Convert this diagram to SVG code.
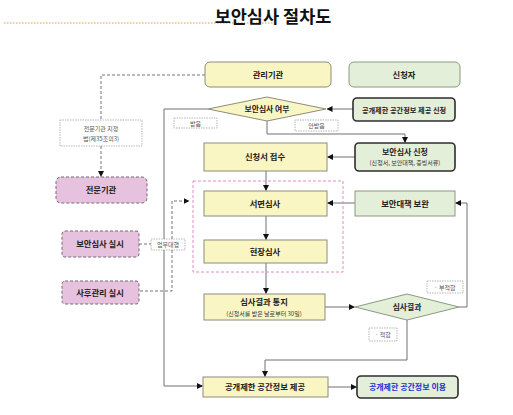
<svg xmlns="http://www.w3.org/2000/svg" width="513" height="415" viewBox="0 0 513 415">
<defs>
<marker id="ah" markerWidth="6" markerHeight="6" refX="5.5" refY="3" orient="auto" markerUnits="userSpaceOnUse">
<path d="M0,0 L6,3 L0,6 z" fill="#111"/>
</marker>
<style>
text{font-family:"Noto Sans CJK KR","Noto Sans",sans-serif;font-weight:bold;text-anchor:middle;fill:#222;}
.y{fill:#FAF6C4;stroke:#8c8c7c;stroke-width:1;}
.g{fill:#E4EFD9;stroke:#8a9a80;stroke-width:1;}
.gd{fill:#E4EFD9;stroke:#2e2e2e;stroke-width:1.6;}
.p{fill:#E6C2DE;stroke:#7a6676;stroke-width:1;stroke-dasharray:3 2;}
.lbl{fill:#fff;stroke:#999;stroke-width:0.7;stroke-dasharray:1.5 1;}
.lt{font-size:6px;font-weight:normal;fill:#555;}
.m{font-size:8.3px;}
.s{font-size:6px;font-weight:normal;fill:#333;}
.c{fill:none;stroke:#707070;stroke-width:1;}
.cd{fill:none;stroke:#777;stroke-width:1;stroke-dasharray:3 2;}
</style>
</defs>
<rect width="513" height="415" fill="#fff"/>
<line x1="4" y1="23" x2="277" y2="23" stroke="#E0A040" stroke-width="1.2" stroke-dasharray="1.5 1.5"/>
<text x="273" y="23" style="font-size:17.5px;font-weight:bold;fill:#111">보안심사 절차도</text>

<g id="connectors">
<path class="c" d="M353,109 L327,109" marker-end="url(#ah)"/>
<path class="c" d="M267,121 L267,134 L405,134 L405,142.5" marker-end="url(#ah)"/>
<path class="c" d="M208,109 L164,109 L164,386 L202.5,386" marker-end="url(#ah)"/>
<path class="c" d="M355,157 L327.5,157" marker-end="url(#ah)"/>
<path class="c" d="M266,171 L266,190.5" marker-end="url(#ah)"/>
<path class="c" d="M355,203 L327.5,203" marker-end="url(#ah)"/>
<path class="c" d="M266,216 L266,239.5" marker-end="url(#ah)"/>
<path class="c" d="M266,263 L266,293.5" marker-end="url(#ah)"/>
<path class="c" d="M325,307 L354.5,307" marker-end="url(#ah)"/>
<path class="c" d="M459,307 L467,307 L467,203 L455.5,203" marker-end="url(#ah)"/>
<path class="c" d="M407,320 L407,360 L265,360 L265,376.5" marker-end="url(#ah)"/>
<path class="c" d="M328,387 L356.5,387" marker-end="url(#ah)"/>
<path class="cd" d="M205,75 L101,75 L101,120"/>
<path class="cd" d="M101,146 L101,176.5" marker-end="url(#ah)"/>
<path class="cd" d="M139,244 L151,244"/>
<path class="cd" d="M172,239 L172,201 L189,201" marker-end="url(#ah)"/>
<path class="cd" d="M172,250 L172,291 L139,291"/>
</g>

<rect x="193" y="181" width="150" height="91" fill="none" stroke="#E48CC6" stroke-width="1" stroke-dasharray="3 2"/>

<g id="n-manager"><rect class="y" x="205" y="62" width="126" height="25" rx="5"/><text class="m" x="268" y="78">관리기관</text></g>
<g id="n-applicant"><rect class="g" x="349" y="62" width="111" height="25" rx="5"/><text class="m" x="404" y="78">신청자</text></g>
<g id="n-decision1"><polygon points="208,109 267,97 326,109 267,121" fill="#FAF6C4" stroke="#8c8c7c"/><text x="267" y="112" style="font-size:7.8px">보안심사 여부</text></g>
<g id="n-request"><rect class="gd" x="353" y="98" width="102" height="23" rx="4"/><text x="404" y="112.5" style="font-size:7.2px">공개제한 공간정보 제공 신청</text></g>
<g id="n-apply"><rect class="gd" x="355" y="143" width="100" height="28" rx="4"/><text x="405" y="154.5" style="font-size:8px">보안심사 신청</text><text class="s" x="405" y="165">(신청서, 보안대책, 증빙서류)</text></g>
<g id="n-receive"><rect class="y" x="204" y="143" width="123" height="28"/><text class="m" x="265" y="160">신청서 접수</text></g>
<g id="n-doc"><rect class="y" x="204" y="191" width="123" height="25"/><text class="m" x="265" y="206.5">서면심사</text></g>
<g id="n-supplement"><rect class="g" x="355" y="191" width="100" height="25"/><text class="m" x="405" y="206.5">보안대책 보완</text></g>
<g id="n-site"><rect class="y" x="204" y="240" width="123" height="23"/><text class="m" x="265" y="254.5">현장심사</text></g>
<g id="n-notify"><rect class="y" x="204" y="294" width="121" height="26"/><text class="m" x="264" y="305">심사결과 통지</text><text class="s" x="264" y="315.5">(신청서를 받은 날로부터 30일)</text></g>
<g id="n-decision2"><polygon points="355,307 407,294 459,307 407,320" fill="#E4EFD9" stroke="#8a9a80"/><text x="407" y="310" style="font-size:7.8px">심사결과</text></g>
<g id="n-provide"><rect class="y" x="203" y="377" width="125" height="20"/><text class="m" x="265" y="390">공개제한 공간정보 제공</text></g>
<g id="n-use"><rect class="gd" x="357" y="376" width="101" height="22" rx="4"/><text x="407.5" y="390" style="font-size:8px;fill:#1a2ed8">공개제한 공간정보 이용</text></g>
<g id="n-agency"><rect class="p" x="56" y="177" width="91" height="26" rx="5"/><text class="m" x="101" y="193">전문기관</text></g>
<g id="n-review"><rect class="p" x="62" y="231" width="77" height="26" rx="3"/><text class="m" x="100" y="247">보안심사 실시</text></g>
<g id="n-after"><rect class="p" x="62" y="281" width="77" height="23" rx="3"/><text class="m" x="100" y="295.5">사후관리 실시</text></g>

<g id="labels">
<rect class="lbl" x="60" y="120" width="82" height="26"/><text class="lt" x="101" y="131">전문기관 지정</text><text class="lt" x="101" y="141">법(제35조의3)</text>
<rect class="lbl" x="174" y="118" width="43" height="10"/><text class="lt" x="195.5" y="125.5">받음</text>
<rect class="lbl" x="295" y="120" width="43" height="11"/><text class="lt" x="316.5" y="128">안받음</text>
<rect class="lbl" x="151" y="239" width="34" height="11"/><text class="lt" x="168" y="247">업무대행</text>
<rect class="lbl" x="427" y="281" width="36" height="12"/><text class="lt" x="445" y="289.5">· 부적합</text>
<rect class="lbl" x="369" y="328" width="28" height="13"/><text class="lt" x="383" y="337">· 적합</text>
</g>
</svg>
